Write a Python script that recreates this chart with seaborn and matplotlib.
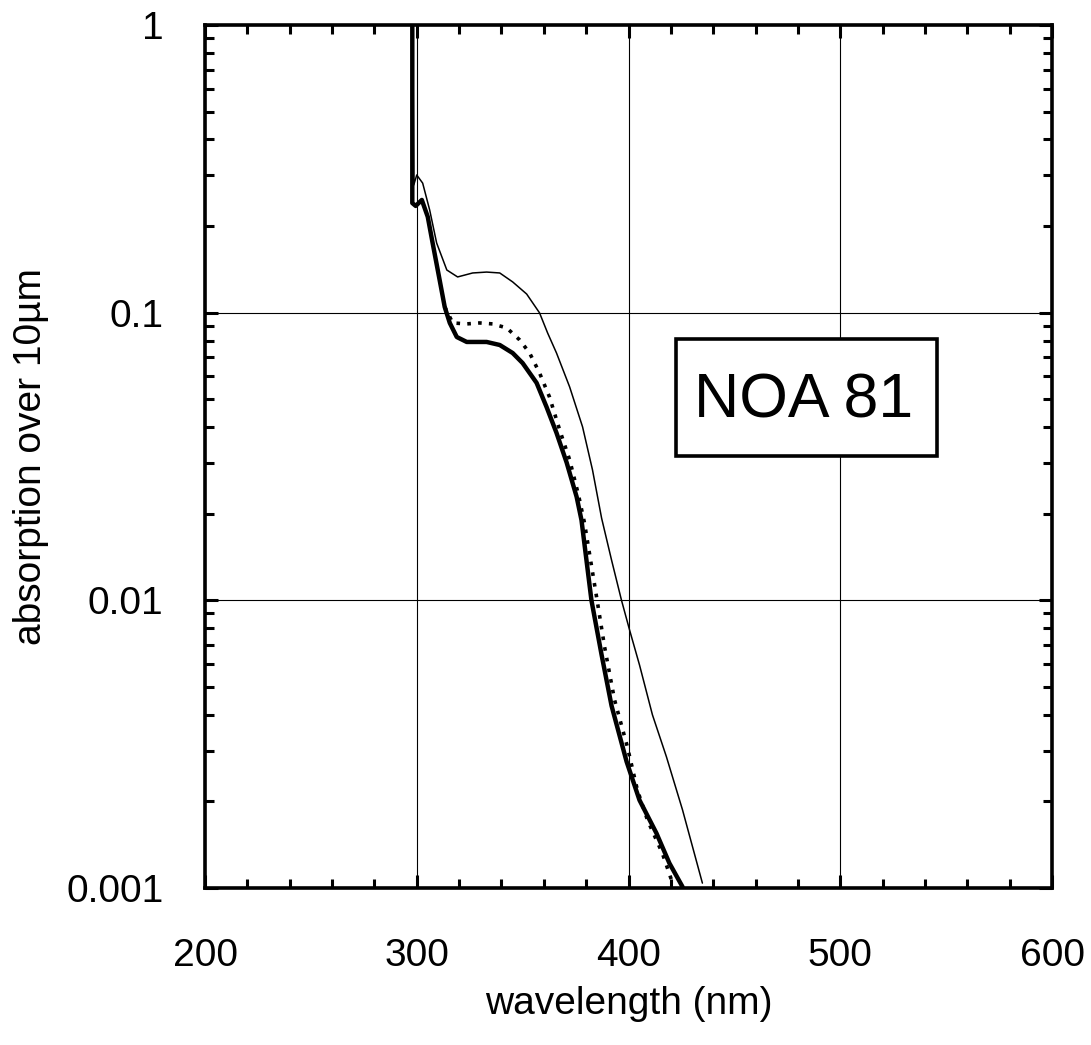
import numpy as np
import pandas as pd
import matplotlib
matplotlib.use("Agg")
import matplotlib.pyplot as plt
from matplotlib.patches import Rectangle
import seaborn as sns
from matplotlib.ticker import FixedLocator, LogLocator, NullFormatter, FixedFormatter

# ---- data ----
thick_nm = [297.9, 297.9, 299.5, 302.4, 305.2, 307.5, 310.8, 313.2, 315.6, 318.9, 323.6,
            333.0, 339.2, 345.3, 350.0, 356.6, 361.3, 366.0, 370.8, 375.5, 377.8, 382.5,
            387.3, 392.0, 399.1, 405.2, 413.2, 419.3, 425.5]
thick_abs = [1.2, 0.2405, 0.235, 0.2465, 0.2153, 0.1746, 0.130, 0.1047, 0.0921, 0.0823,
             0.0791, 0.0791, 0.0772, 0.0724, 0.0668, 0.0570, 0.0470, 0.0382, 0.0301,
             0.0229, 0.0190, 0.0100, 0.00646, 0.00430, 0.00275, 0.00202, 0.00155,
             0.00122, 0.00101]

dotted_nm = [313.2, 317.0, 323.6, 329.7, 335.8, 342.5, 348.6, 353.3, 358.0, 362.7, 367.5,
             372.2, 376.4, 379.2, 384.9, 388.7, 393.4, 399.5, 404.2, 409.0, 416.0, 420.8]
dotted_abs = [0.1047, 0.0921, 0.0914, 0.0921, 0.0914, 0.0885, 0.0804, 0.0724, 0.0617,
              0.0509, 0.0391, 0.0308, 0.0232, 0.0186, 0.0103, 0.00689, 0.00451, 0.00309,
              0.00219, 0.00172, 0.00132, 0.00104]

thin_nm = [298.1, 298.6, 300.0, 302.8, 306.1, 309.4, 314.2, 319.3, 326.4, 333.0, 339.2,
           345.3, 351.9, 358.0, 361.8, 366.0, 372.2, 378.3, 383.0, 387.3, 392.0, 396.7,
           400.5, 405.2, 411.3, 417.9, 425.5, 434.9]
thin_abs = [1.2, 0.278, 0.301, 0.282, 0.2275, 0.1746, 0.1407, 0.1331, 0.1374, 0.1384,
            0.1374, 0.1279, 0.1161, 0.0998, 0.0850, 0.0724, 0.0552, 0.0401, 0.0284,
            0.0193, 0.0138, 0.0100, 0.00789, 0.00596, 0.00400, 0.00286, 0.00187, 0.00104]

x_ticks = [200, 300, 400, 500, 600]
x_tick_labels = ["200", "300", "400", "500", "600"]
y_ticks = [0.001, 0.01, 0.1, 1]
y_tick_labels = ["0.001", "0.01", "0.1", "1"]
x_label = "wavelength (nm)"
y_label = "absorption over 10µm"
box_text = "NOA 81"

# ---- styling ----
sns.set_style("white")
plt.rcParams['font.family'] = ['Liberation Sans', 'DejaVu Sans']
plt.rcParams['text.color'] = 'black'
plt.rcParams['axes.labelcolor'] = 'black'
plt.rcParams['xtick.color'] = 'black'
plt.rcParams['ytick.color'] = 'black'

fig = plt.figure(figsize=(10.91, 10.45), dpi=100)
ax = fig.add_axes([205/1091, 1 - 888/1045, 847/1091, 863/1045])

df_thin = pd.DataFrame({"nm": thin_nm, "abs": thin_abs})
df_dot = pd.DataFrame({"nm": dotted_nm, "abs": dotted_abs})
df_thick = pd.DataFrame({"nm": thick_nm, "abs": thick_abs})

sns.lineplot(data=df_thin, x="nm", y="abs", ax=ax, sort=False, estimator=None,
             color="black", linewidth=1.1, zorder=3)
ax.lines[-1].set_solid_joinstyle("round")
sns.lineplot(data=df_dot, x="nm", y="abs", ax=ax, sort=False, estimator=None,
             color="black", linewidth=2.6, zorder=3)
ax.lines[-1].set_linestyle((0, (1, 2)))
ax.lines[-1].set_dash_capstyle("butt")
sns.lineplot(data=df_thick, x="nm", y="abs", ax=ax, sort=False, estimator=None,
             color="black", linewidth=3.2, zorder=4)
ax.lines[-1].set_solid_joinstyle("round")

ax.set_yscale("log")
ax.set_xlim(200, 600)
ax.set_ylim(0.001, 1)

ax.xaxis.set_major_locator(FixedLocator(x_ticks))
ax.xaxis.set_major_formatter(FixedFormatter(x_tick_labels))
ax.xaxis.set_minor_locator(FixedLocator(np.arange(200, 601, 20)))
ax.yaxis.set_major_locator(FixedLocator(y_ticks))
ax.yaxis.set_major_formatter(FixedFormatter(y_tick_labels))
ax.yaxis.set_minor_locator(LogLocator(base=10, subs=np.arange(2, 10)))
ax.yaxis.set_minor_formatter(NullFormatter())

ax.tick_params(which="both", direction="in", top=True, right=True, bottom=True,
               left=True, colors="black", width=2.2)
ax.tick_params(which="major", length=9.5, labelsize=28)
ax.tick_params(which="minor", length=6.5)
ax.tick_params(axis="x", which="major", pad=36)
ax.tick_params(axis="y", which="major", pad=30)

ax.grid(True, which="major", color="black", linewidth=0.8)
ax.set_axisbelow(True)
for s in ax.spines.values():
    s.set_linewidth(2.6)
    s.set_color("black")
    s.set_visible(True)

ax.set_xlabel(x_label, fontsize=28, labelpad=9, color="black")
ax.set_ylabel(y_label, fontsize=28, labelpad=12, color="black")

ax.add_patch(Rectangle((0.5561, 0.5006), 0.3081, 0.1356, transform=ax.transAxes,
                       facecolor="white", edgecolor="black", linewidth=2.6, zorder=5))
ax.text(0.7072, 0.545, box_text, transform=ax.transAxes, fontsize=45,
        ha="center", va="baseline", zorder=6, color="black")

fig.savefig("out.png", dpi=100)
